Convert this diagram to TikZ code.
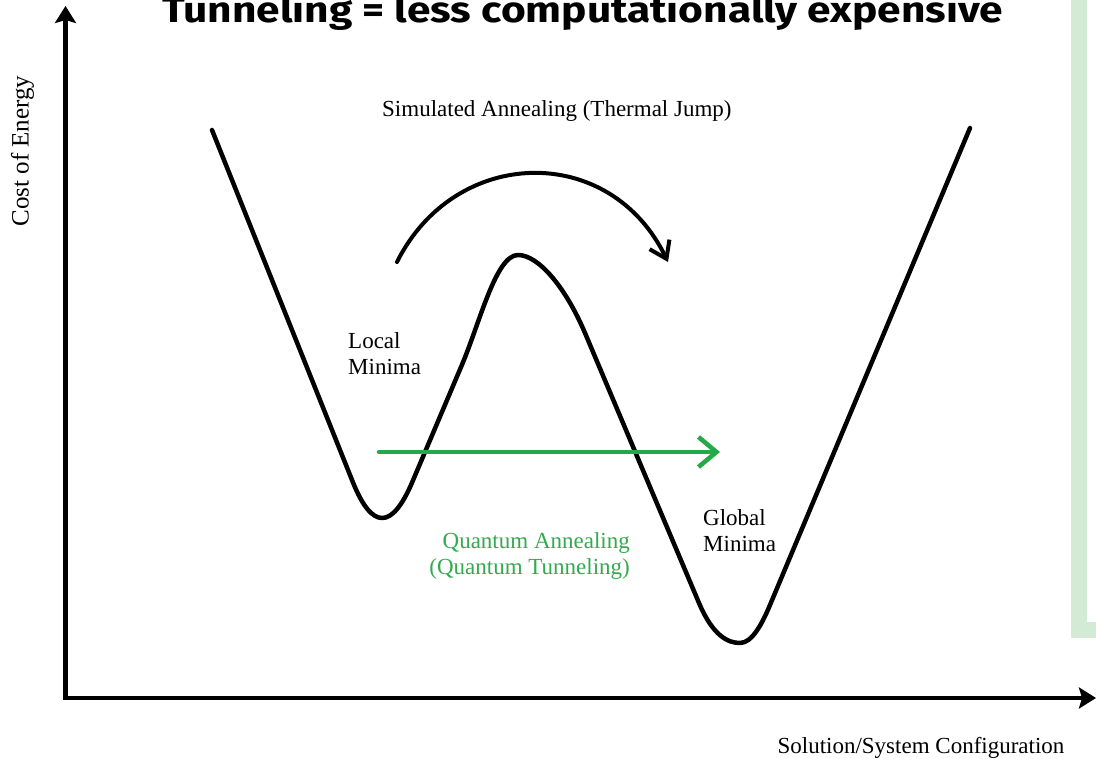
\documentclass[tikz,border=0pt]{standalone}
\usepackage{fontspec}
\usepackage{graphicx}
\setmainfont{Liberation Serif}
\newfontfamily\titlefont{Fira Sans}
\usetikzlibrary{arrows.meta}
\definecolor{qgreen}{RGB}{37,168,72}
\definecolor{qtext}{RGB}{52,170,80}
\definecolor{panelgreen}{RGB}{211,234,213}
\begin{document}
\begin{tikzpicture}[x=1pt,y=-1pt,
  lbl/.style={inner sep=0pt, font=\fontsize{23}{26}\selectfont},
  energy/.style={line width=4.5pt, line cap=round, line join=round},
  axis/.style={line width=4.5pt, line join=miter,
    {Stealth[length=17pt,width=21pt,inset=3pt]}-{Stealth[length=17pt,width=21pt,inset=3pt]}},
  jump/.style={line width=4pt, line cap=round, -{Straight Barb[length=16pt,width=22pt]}},
  tunnel/.style={qgreen, line width=4.5pt, line cap=round, -{Straight Barb[length=18pt,width=30pt]}}]
\useasboundingbox (0,0) rectangle (1096,759);
\clip (0,0) rectangle (1096,759);
\fill[white] (0,0) rectangle (1096,759);

% side panel frame (only its lower-left corner lies on the page)
\draw[panelgreen, line width=16pt, line join=miter] (1079,-30) -- (1079,629.5) -- (1130,629.5);

% title
\node[anchor=base west, inner sep=0pt] (title) at (162,22.5)
  {\resizebox{841pt}{\height}{\titlefont\bfseries\fontsize{36}{36}\selectfont Tunneling = less computationally expensive}};

% axes
\coordinate (origin) at (65.5,698);
\coordinate (ytip) at (65.5,6);
\coordinate (xtip) at (1096,698);
\draw[axis] (ytip) -- (origin) -- (xtip);

% energy landscape: local well, barrier, global well
\coordinate (e0) at (212,130);
\coordinate (e1) at (970,128);
\draw[energy] (e0) -- (352.8,482)
  .. controls (372.1,530) and (391.9,530) .. (412.3,482)
  -- (462,364.7)
  .. controls (480,322) and (496,255) .. (518,255)
  .. controls (538,255) and (565,286) .. (585,333)
  -- (699,603)
  .. controls (713,636) and (728,643) .. (740,643)
  .. controls (752,643) and (762,624) .. (770,605)
  -- (e1);

% thermal jump over the barrier
\coordinate (jumpS) at (397,262);
\coordinate (jumpE) at (668,262);
\draw[jump] (jumpS) .. controls (455,146) and (610,142) .. (jumpE);

% tunnelling through the barrier
\coordinate (tunS) at (379,452);
\coordinate (tunE) at (720,452);
\draw[tunnel] (tunS) -- (tunE);

% labels
\node[lbl, anchor=base west] (sa) at (382,117) {Simulated Annealing (Thermal Jump)};
\node[lbl, anchor=north west, align=left] (localmin) at (348,332.3) {Local\\Minima};
\node[lbl, anchor=north west, align=left] (globalmin) at (703,509.3) {Global\\Minima};
\node[lbl, anchor=north east, align=right, text=qtext] (qa) at (630,532.3) {Quantum Annealing\\(Quantum Tunneling)};
\node[lbl, font=\fontsize{25}{28}\selectfont, rotate=90, anchor=base] (ylabel) at (28.5,151) {Cost of Energy};
\node[lbl, anchor=base] (xlabel) at (921,753) {Solution/System Configuration};
\end{tikzpicture}
\end{document}
